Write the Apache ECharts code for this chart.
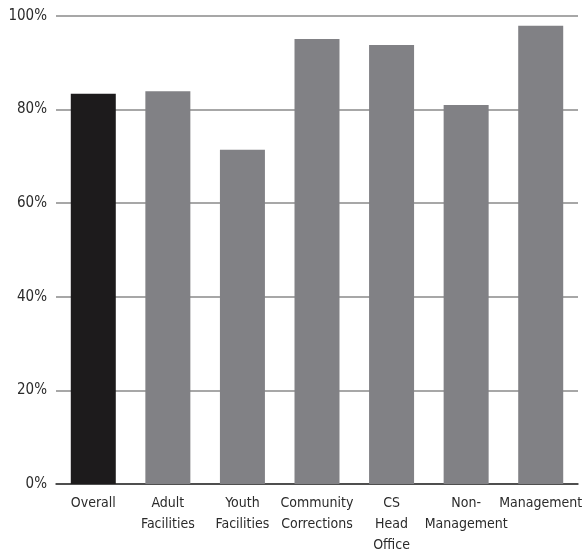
<!DOCTYPE html>
<html>
<head>
<meta charset="utf-8">
<script src="https://cdn.jsdelivr.net/npm/echarts@6/dist/echarts.min.js"></script>
<style>html,body{margin:0;padding:0;background:#fff}#c{width:584px;height:552px}</style>
</head>
<body>
<div id="c"></div>
<script>
const categories = ["Overall", "Adult\nFacilities", "Youth\nFacilities", "Community\nCorrections", "CS\nHead\nOffice", "Non-\nManagement", "Management"];
const values = [83.4, 83.9, 71.4, 95.1, 93.8, 81.0, 97.9];
const barColors = ["#1d1b1c", "#818185", "#818185", "#818185", "#818185", "#818185", "#818185"];

const chart = echarts.init(document.getElementById('c'));
const font = "'DejaVu Sans Condensed', 'Liberation Sans Narrow', sans-serif";
chart.setOption({
  animation: false,
  grid: { left: 56, right: 6, top: 16, bottom: 68, outerBoundsMode: 'none' },
  xAxis: {
    type: 'category',
    data: categories,
    axisLine: { lineStyle: { color: '#333', width: 1.5 } },
    axisTick: { show: false },
    axisLabel: { color: '#2b2b2b', fontFamily: font, fontSize: 14, lineHeight: 21, margin: 9, interval: 0 }
  },
  yAxis: {
    type: 'value',
    min: 0, max: 100, interval: 20,
    axisLine: { show: false },
    axisTick: { show: false },
    axisLabel: { formatter: '{value}%', color: '#2b2b2b', fontFamily: font, fontSize: 15, margin: 9 },
    splitLine: { lineStyle: { color: '#8a8a8a', width: 1.5 } }
  },
  series: [{
    type: 'bar',
    barWidth: 45,
    data: values.map((v, i) => ({ value: v, itemStyle: { color: barColors[i] } }))
  }]
});
</script>
</body>
</html>
